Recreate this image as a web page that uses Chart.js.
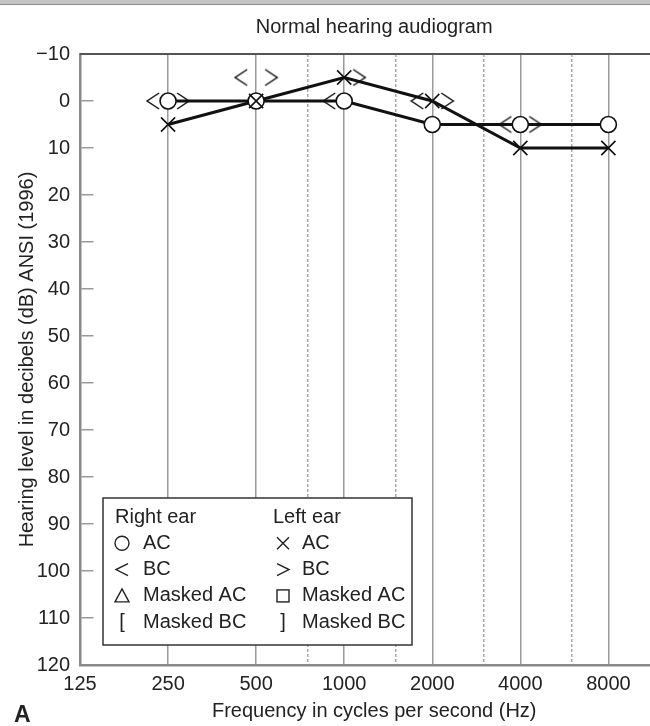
<!DOCTYPE html>
<html>
<head>
<meta charset="utf-8">
<script src="https://cdn.jsdelivr.net/npm/chart.js@4.4.1/dist/chart.umd.min.js"></script>
<style>
  html, body { margin: 0; padding: 0; background: #fff; overflow: hidden; }
  #wrap { position: relative; width: 680px; height: 726px; }
  #audiograma { display: block; }
  #topbar { position: absolute; left: 0; top: 0; width: 100%; height: 4px; background: #c4c4c4; border-bottom: 1px solid #8c8c8c; }
</style>
</head>
<body>
<div id="wrap"><canvas id="audiograma" width="680" height="726"></canvas><div id="topbar"></div></div>
<script>
// datos del audiograma
const freqs = [250, 500, 1000, 2000, 4000, 8000];
const rightAC = [0, 0, 0, 5, 5, 5];
const leftAC = [5, 0, -5, 0, 10, 10];
const bcFreqs = [250, 500, 1000, 2000, 4000];
const rightBC = [0, -5, 0, 0, 5];
const leftBC = [0, -5, -5, 0, 5];

const xTicks = [125, 250, 500, 1000, 2000, 4000, 8000];
const xHalfTicks = [750, 1500, 3000, 6000];
const yTicks = [-10, 0, 10, 20, 30, 40, 50, 60, 70, 80, 90, 100, 110, 120];

const legendHeads = ['Right ear', 'Left ear'];
const legendRight = ['AC', 'BC', 'Masked AC', 'Masked BC'];
const legendLeft = ['AC', 'BC', 'Masked AC', 'Masked BC'];

const FONT = '"Liberation Sans", Arial, sans-serif';
Chart.defaults.font.family = FONT;
Chart.defaults.font.size = 20;
Chart.defaults.color = '#222';

function pares(xs, ys) {
  return xs.map((f, i) => ({ x: f, y: ys[i] }));
}

// marcas < y > desplazadas a un lado de la frecuencia
function bcMark(dir) {
  const c = document.createElement('canvas');
  c.width = 50; c.height = 24;
  const g = c.getContext('2d');
  g.strokeStyle = '#111';
  g.lineWidth = 1.5;
  const cx = 25 + dir * 15;
  g.beginPath();
  g.moveTo(cx - dir * 6, 4);
  g.lineTo(cx + dir * 6, 12);
  g.lineTo(cx - dir * 6, 20);
  g.stroke();
  return c;
}

const cuadro = {
  id: 'cuadro',
  afterDraw(chart) {
    const { ctx, chartArea: a } = chart;
    ctx.save();
    // borde superior
    ctx.strokeStyle = '#555';
    ctx.lineWidth = 2;
    ctx.beginPath();
    ctx.moveTo(a.left, a.top);
    ctx.lineTo(a.right, a.top);
    ctx.stroke();

    // leyenda
    const bx = a.left + 23, by = a.bottom - 167, bw = 309, bh = 147;
    ctx.fillStyle = '#fff';
    ctx.fillRect(bx, by, bw, bh);
    ctx.strokeStyle = '#333';
    ctx.lineWidth = 1.5;
    ctx.strokeRect(bx, by, bw, bh);

    ctx.font = '20px ' + FONT;
    ctx.fillStyle = '#222';
    ctx.textBaseline = 'middle';
    ctx.textAlign = 'left';
    const row = i => by + 19 + 26.3 * i;
    ctx.fillText(legendHeads[0], bx + 12, row(0));
    ctx.fillText(legendHeads[1], bx + 170, row(0));
    legendRight.forEach((t, i) => ctx.fillText(t, bx + 40, row(i + 1)));
    legendLeft.forEach((t, i) => ctx.fillText(t, bx + 199, row(i + 1)));

    const sl = bx + 19, sr = bx + 180;
    ctx.strokeStyle = '#222';
    ctx.lineWidth = 1.4;
    // circulo
    ctx.beginPath(); ctx.arc(sl, row(1), 7, 0, Math.PI * 2); ctx.stroke();
    // <
    ctx.beginPath(); ctx.moveTo(sl + 6, row(2) - 6); ctx.lineTo(sl - 6, row(2)); ctx.lineTo(sl + 6, row(2) + 6); ctx.stroke();
    // triangulo
    ctx.beginPath(); ctx.moveTo(sl, row(3) - 7); ctx.lineTo(sl + 7, row(3) + 6); ctx.lineTo(sl - 7, row(3) + 6); ctx.closePath(); ctx.stroke();
    // [
    ctx.textAlign = 'center';
    ctx.fillText('[', sl, row(4));
    // x
    ctx.beginPath();
    ctx.moveTo(sr - 6, row(1) - 6); ctx.lineTo(sr + 6, row(1) + 6);
    ctx.moveTo(sr + 6, row(1) - 6); ctx.lineTo(sr - 6, row(1) + 6);
    ctx.stroke();
    // >
    ctx.beginPath(); ctx.moveTo(sr - 6, row(2) - 6); ctx.lineTo(sr + 6, row(2)); ctx.lineTo(sr - 6, row(2) + 6); ctx.stroke();
    // cuadro
    ctx.strokeRect(sr - 6, row(3) - 6, 12, 12);
    // ]
    ctx.fillText(']', sr, row(4));

    // letra A
    ctx.textAlign = 'left';
    ctx.textBaseline = 'alphabetic';
    ctx.font = 'bold 23px ' + FONT;
    ctx.fillText('A', 14, 722);
    ctx.restore();
  }
};

const audiograma = new Chart(document.getElementById('audiograma'), {
  type: 'line',
  data: {
    datasets: [
      {
        label: 'Left AC points',
        data: pares(freqs, leftAC),
        showLine: false,
        pointStyle: 'crossRot',
        pointRadius: 10,
        pointBorderWidth: 1.6,
        pointBorderColor: '#111'
      },
      {
        label: 'Right BC',
        data: pares(bcFreqs, rightBC),
        showLine: false,
        pointStyle: bcMark(-1),
        pointRadius: 10
      },
      {
        label: 'Left BC',
        data: pares(bcFreqs, leftBC),
        showLine: false,
        pointStyle: bcMark(1),
        pointRadius: 10
      },
      {
        label: 'Right AC',
        data: pares(freqs, rightAC),
        borderColor: '#111',
        borderWidth: 3,
        pointStyle: 'circle',
        pointRadius: 8,
        pointBorderWidth: 1.6,
        pointBorderColor: '#111',
        pointBackgroundColor: '#fff'
      },
      {
        label: 'Left AC line',
        data: pares(freqs, leftAC),
        borderColor: '#111',
        borderWidth: 3,
        pointRadius: 0
      }
    ]
  },
  options: {
    responsive: false,
    animation: false,
    events: [],
    layout: { padding: 0 },
    plugins: {
      legend: { display: false },
      tooltip: { enabled: false },
      title: {
        display: true,
        text: 'Normal hearing audiogram',
        fullSize: false,
        color: '#222',
        font: { size: 20, weight: 'normal' },
        padding: { top: 15, bottom: 15 }
      }
    },
    scales: {
      x: {
        type: 'logarithmic',
        min: 125,
        max: 12830,
        afterBuildTicks: s => { s.ticks = xTicks.concat(xHalfTicks).map(v => ({ value: v })); },
        afterFit: s => { s.height = 61; },
        ticks: {
          autoSkip: false,
          maxRotation: 0,
          padding: 7,
          color: '#222',
          callback: v => (xTicks.includes(v) ? String(v) : '')
        },
        grid: {
          drawTicks: false,
          color: c => (c.tick && xHalfTicks.includes(c.tick.value) ? '#a8a8a8' : '#9a9a9a'),
          lineWidth: 1.5
        },
        border: {
          color: '#888',
          width: 2.5,
          dash: c => (c.tick && xHalfTicks.includes(c.tick.value) ? [3, 2] : [])
        },
        title: {
          display: true,
          text: 'Frequency in cycles per second (Hz)',
          color: '#222',
          font: { size: 20 },
          padding: 3
        }
      },
      y: {
        reverse: true,
        min: -10,
        max: 120,
        afterBuildTicks: s => { s.ticks = yTicks.map(v => ({ value: v })); },
        afterFit: s => { s.width = 80; },
        ticks: {
          padding: 10,
          color: '#222',
          callback: v => (v < 0 ? '\u2212' + Math.abs(v) : String(v))
        },
        grid: {
          drawTicks: false,
          color: '#9a9a9a',
          lineWidth: 1.5
        },
        border: {
          color: '#888',
          width: 2.5,
          dash: [12, 2000]
        },
        title: {
          display: true,
          text: 'Hearing level in decibels (dB) ANSI (1996)',
          color: '#222',
          font: { size: 20 },
          padding: 15
        }
      }
    }
  },
  plugins: [cuadro]
});
</script>
</body>
</html>
